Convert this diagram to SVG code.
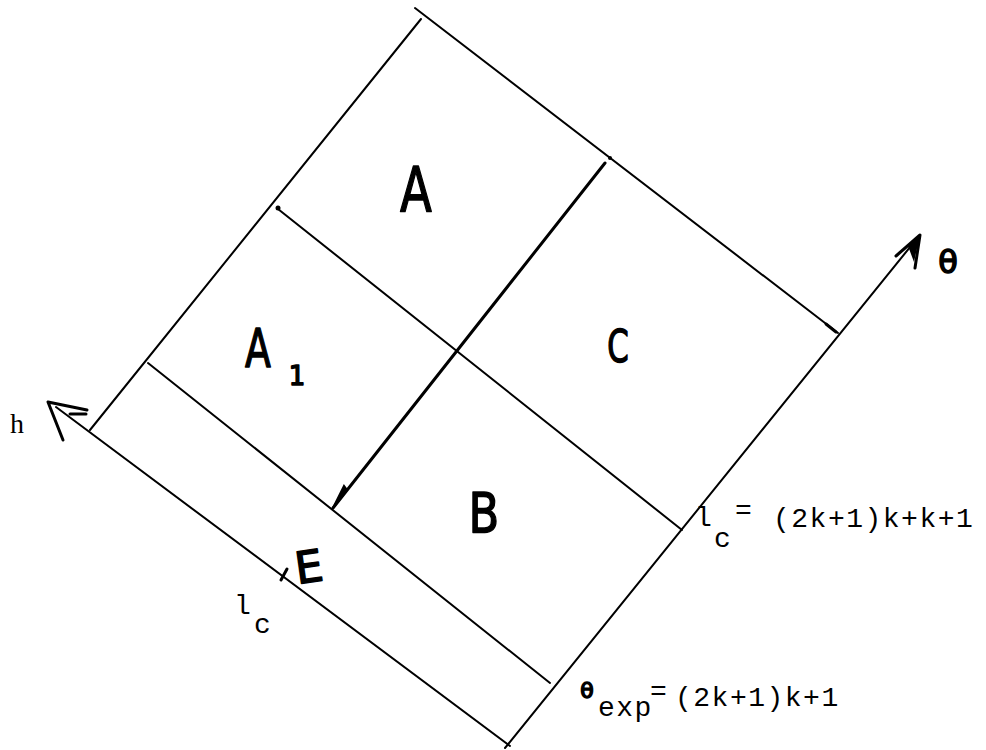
<svg xmlns="http://www.w3.org/2000/svg" width="986" height="750" viewBox="0 0 986 750">
<style>
.ln{stroke:#000;stroke-width:2;fill:none;stroke-linecap:round}
.thk{stroke:#000;stroke-width:3;fill:none;stroke-linecap:round;stroke-linejoin:round}
.hand{font-family:"DejaVu Sans","Liberation Sans",sans-serif;fill:#000;stroke:#000;stroke-width:1.5;stroke-linejoin:round}
.mono{font-family:"Liberation Mono","DejaVu Sans Mono",monospace;font-size:28px;fill:#000;letter-spacing:1.5px}
.ser{font-family:"Liberation Serif","DejaVu Serif",serif;fill:#000}
</style>
<rect width="986" height="750" fill="#fff"/>
<g id="connectors">
<line class="ln" x1="90" y1="430" x2="421" y2="19"/>
<line class="ln" x1="415" y1="8" x2="838" y2="333" stroke-width="1.6"/>
<line class="ln" x1="505" y1="748" x2="919" y2="236"/>
<line class="ln" x1="510" y1="746" x2="56" y2="407"/>
<line class="ln" x1="278" y1="209" x2="682" y2="530"/>
<circle cx="278" cy="208" r="2.5" fill="#000"/>
<line class="ln" x1="148" y1="363" x2="550" y2="683"/>
<line class="thk" x1="605" y1="163" x2="333" y2="508"/>
<path d="M333 508 L344 486 L347 490 Z" fill="#000" stroke="#000" stroke-width="2"/>
<circle cx="610" cy="158" r="2" fill="#000"/>
<path d="M826 324 L836 332" class="thk"/>
<path class="thk" d="M63 440 L48 402 L87 410" stroke-width="4.5"/>
<path class="thk" d="M70 414 L86 414" stroke-width="3"/>
<path class="thk" d="M896 256 L920 235 L915 268" stroke-width="4"/>
<path d="M908 246 L920 235 L914 262 Z" fill="#000"/>
<path class="thk" d="M281 580 L287 569" stroke-width="3"/>
</g>
<g id="A"><text class="hand" x="416" y="212" font-size="62" text-anchor="middle" transform="translate(416 212) scale(0.75 1) translate(-416 -212)">A</text></g>
<g id="A1"><text class="hand" x="258" y="367" font-size="54" text-anchor="middle" transform="translate(258 367) scale(0.7 1) translate(-258 -367)">A</text><text class="hand" x="297" y="385" font-size="26" text-anchor="middle">1</text></g>
<g id="C"><text class="hand" x="618" y="362" font-size="44" text-anchor="middle" transform="translate(618 362) scale(0.7 1) translate(-618 -362)">C</text></g>
<g id="B"><text class="hand" x="484" y="532" font-size="56" text-anchor="middle" transform="translate(484 532) scale(0.8 1) translate(-484 -532)">B</text></g>
<g id="E"><text class="hand" x="311" y="582" font-size="44" text-anchor="middle" transform="rotate(-8 311 582)">E</text></g>
<g id="h"><text class="ser" x="10" y="433" font-size="28">h</text></g>
<g id="theta"><text class="hand" x="948" y="273" font-size="32" text-anchor="middle">θ</text></g>
<g id="lc1"><text class="mono" x="234" y="614">l</text><text class="mono" x="254" y="633">c</text></g>
<g id="lc2"><text class="mono" x="695" y="526">l</text><text class="mono" x="714" y="547">c</text><text class="mono" x="735" y="519">=</text><text class="mono" x="773" y="527">(2k+1)k+k+1</text></g>
<g id="thetaexp"><text class="hand" x="587" y="698" font-size="22" text-anchor="middle">θ</text><text class="mono" x="598" y="716">exp</text><text class="mono" x="650" y="700">=</text><text class="mono" x="675" y="706">(2k+1)k+1</text></g>
</svg>
